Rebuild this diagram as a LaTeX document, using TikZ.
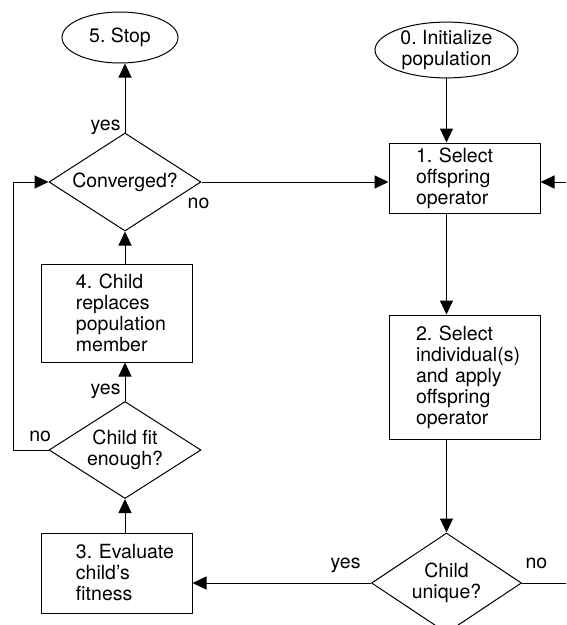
\documentclass[tikz,border=0pt]{standalone}
\usepackage{fontspec}
\setmainfont{TeX Gyre Heros}
\usetikzlibrary{shapes.geometric,arrows.meta,calc}
\tikzset{>={Triangle[length=14pt,width=13pt]}}

\begin{document}
\frenchspacing
\begin{tikzpicture}[x=1pt, y=-1pt, line width=1pt,
    font=\fontsize{19.5}{21}\selectfont,
    box/.style={draw, rectangle, minimum width=151pt, text width=151pt,
      inner xsep=0pt, inner ysep=0pt, align=left},
    textleft/.style={execute at begin node={\leftskip=#1\relax}},
    decision/.style={draw, diamond, aspect=1.55, inner sep=0pt,
      minimum width=152pt, minimum height=98pt, align=center},
    term/.style={draw, ellipse, inner sep=0pt, align=center},
    lbl/.style={inner sep=0pt}]
  \useasboundingbox (0,0) rectangle (566,625);
  \clip (0,0) rectangle (566,625);

  % left column
  \node[term, minimum width=116pt, minimum height=51pt] (stop) at (120,37.5) {5. Stop};
  \node[decision] (conv) at (125,182) {Converged?};
  \node[box, textleft=35pt, minimum height=98pt] (repl) at (116.5,313)
    {4. Child\\replaces\\population\\member};
  \node[decision, minimum height=97pt] (fit) at (125,450) {Child fit\\enough?};
  \node[box, textleft=35pt, minimum height=80pt] (eval) at (116.5,573)
    {3. Evaluate\\child's\\fitness};

  % right column
  \node[term, minimum width=143pt, minimum height=54pt] (init) at (446.5,50)
    {0. Initialize\\population};
  \node[box, textleft=27pt, minimum height=70pt] (sel) at (464.5,178)
    {1. Select\\offspring\\operator};
  \node[box, textleft=27pt, minimum height=124pt] (apply) at (464.5,377)
    {2. Select\\individual(s)\\and apply\\offspring\\operator};
  \node[decision, minimum width=150pt, minimum height=100pt] (uniq) at (446.5,583)
    {Child\\unique?};

  \coordinate (col) at (446.5,0);
  \coordinate (lc) at (13,0);
  \coordinate (rin) at (580,182);
  \coordinate (rout) at (580,583);

  \draw[->] (conv.north) -- node[lbl, at start, anchor=base east, xshift=-4pt, yshift=2pt] {yes} (stop.south -| conv);
  \draw[->] (conv.east) -- node[lbl, at start, anchor=base, xshift=-3pt, yshift=-26pt] {no} (conv.east -| sel.west);
  \draw[->] (rin) -- (rin -| sel.east);
  \draw[->] (init.south) -- (sel.north -| col);
  \draw[->] (sel.south -| col) -- (apply.north -| col);
  \draw[->] (apply.south -| col) -- (uniq.north);
  \draw[->] (uniq.west) -- node[lbl, at start, anchor=base east, xshift=-10pt, yshift=15pt] {yes} (uniq.west -| eval.east);
  \draw (uniq.east) -- node[lbl, at start, anchor=base west, xshift=3pt, yshift=15pt] {no} (rout);
  \draw[->] (eval.north -| fit) -- (fit.south);
  \draw[->] (fit.north) -- node[lbl, at start, anchor=base east, xshift=-4pt, yshift=7pt] {yes} (repl.south -| fit);
  \draw[->] (repl.north -| conv) -- (conv.south);
  \draw[->] (fit.west) -- node[lbl, at start, anchor=base east, xshift=3pt, yshift=9pt] {no} (lc |- fit.west)
    -- (lc |- conv.west) -- (conv.west);
\end{tikzpicture}
\end{document}
